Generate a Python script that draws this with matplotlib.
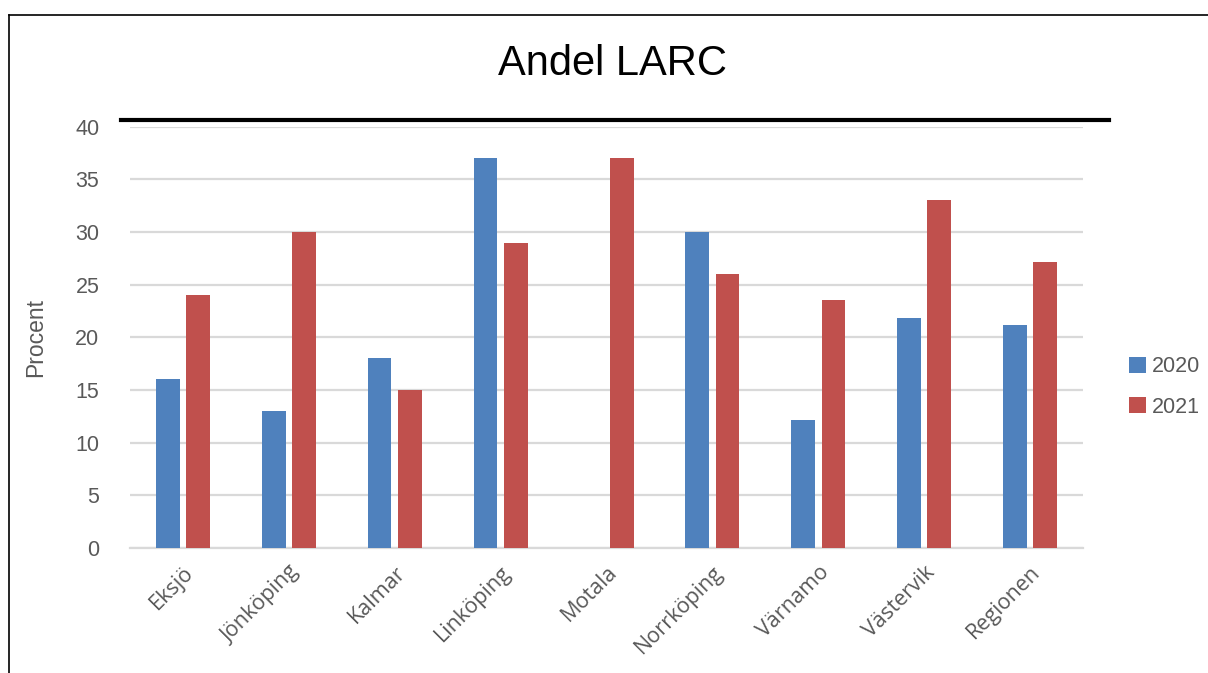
import matplotlib
matplotlib.use("Agg")
import matplotlib.pyplot as plt
import numpy as np
from matplotlib.lines import Line2D

# Andel LARC per ort, 2020 och 2021
orter = ["Eksjö", "Jönköping", "Kalmar", "Linköping", "Motala",
         "Norrköping", "Värnamo", "Västervik", "Regionen"]
andel_2020 = [16, 13, 18, 37, 0, 30, 12.2, 21.8, 21.2]
andel_2021 = [24, 30, 15, 29, 37, 26, 23.5, 33, 27.2]
yticks = [0, 5, 10, 15, 20, 25, 30, 35, 40]

W, H = 1208, 673
fig = plt.figure(figsize=(W / 100, H / 100), dpi=100)
ax = fig.add_axes([130 / W, 1 - 548 / H, (1083 - 130) / W, (548 - 126.7) / H])

x = np.arange(len(orter))
bw = 0.225
ax.bar(x - 0.143, andel_2020, bw, color="#4f81bd", label="2020", zorder=3)
ax.bar(x + 0.143, andel_2021, bw, color="#c0504d", label="2021", zorder=3)

ax.set_xlim(-0.5, len(orter) - 0.5)
ax.set_ylim(0, 40)
ax.set_yticks(yticks)
ax.yaxis.grid(True, color="#d9d9d9", linewidth=1.6, zorder=0)
ax.set_axisbelow(True)
for s in ["top", "right", "left"]:
    ax.spines[s].set_visible(False)
ax.spines["bottom"].set_color("#d9d9d9")
ax.spines["bottom"].set_linewidth(1.6)
ax.tick_params(length=0)

num_font = ["Liberation Sans", "DejaVu Sans"]
ax.set_yticklabels([str(v) for v in yticks], fontsize=15.5, color="#595959",
                   family=num_font)
ax.tick_params(axis="y", pad=22)
ax.set_xticks(x)
ax.set_xticklabels(orter, rotation=45, ha="right", rotation_mode="anchor",
                   fontsize=15.5, color="#595959", family="Open Sans")
ax.tick_params(axis="x", pad=10)
ax.set_ylabel("Procent", fontsize=16.5, color="#595959", family=num_font,
              labelpad=20)

leg = fig.legend(loc="center left", bbox_to_anchor=(1110 / W, 1 - 387 / H),
                 frameon=False, prop={"family": num_font, "size": 15.5},
                 handlelength=0.75, handleheight=0.75, handletextpad=0.3,
                 labelspacing=0.9)
for t in leg.get_texts():
    t.set_color("#595959")

fig.text(613 / W, 1 - 64 / H, "Andel LARC", ha="center", va="center",
         fontsize=30, family=num_font, color="black")

# ram och tjock linje under rubriken
fig.add_artist(Line2D([9 / W, 1], [1 - 15 / H, 1 - 15 / H], color="black", lw=1.2))
fig.add_artist(Line2D([9 / W, 9 / W], [0, 1 - 15 / H], color="black", lw=1.2))
fig.add_artist(Line2D([121 / W, 1109 / W], [1 - 120 / H, 1 - 120 / H],
                      color="black", lw=3))

fig.savefig("out.png", dpi=100)
